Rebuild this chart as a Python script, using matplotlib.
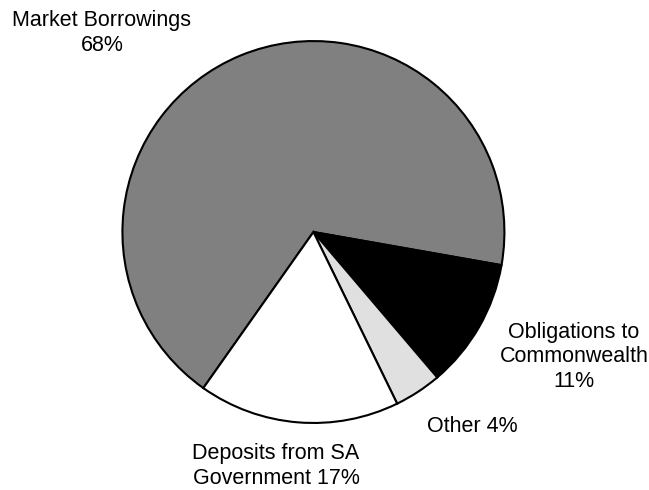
import matplotlib
matplotlib.use("Agg")
import matplotlib.pyplot as plt

plt.rcParams['font.family'] = ['Liberation Sans', 'DejaVu Sans']

# Sources of borrowings
labels = ['Market Borrowings\n68%', 'Obligations to\nCommonwealth\n11%',
          'Other 4%', 'Deposits from SA\nGovernment 17%']
shares = [68, 11, 4, 17]
colours = ['#808080', '#000000', '#e0e0e0', '#ffffff']
label_pos = [(-1.107, 1.042), (1.364, -0.654), (0.830, -1.016), (-0.196, -1.225)]

fig = plt.figure(figsize=(6.49, 4.90), dpi=100)
ax = fig.add_axes([0, 0, 1, 1])

ax.pie(shares, colors=colours, startangle=234.8, counterclock=False,
       wedgeprops=dict(edgecolor='black', linewidth=1.5))

for text, (x, y) in zip(labels, label_pos):
    ax.text(x, y, text, ha='center', va='center', fontsize=15.5,
            linespacing=1.2)

ax.set_xlim(-1.641, 1.757)
ax.set_ylim(-1.351, 1.215)
ax.set_aspect('auto')
ax.axis('off')

fig.savefig('out.png', dpi=100)
